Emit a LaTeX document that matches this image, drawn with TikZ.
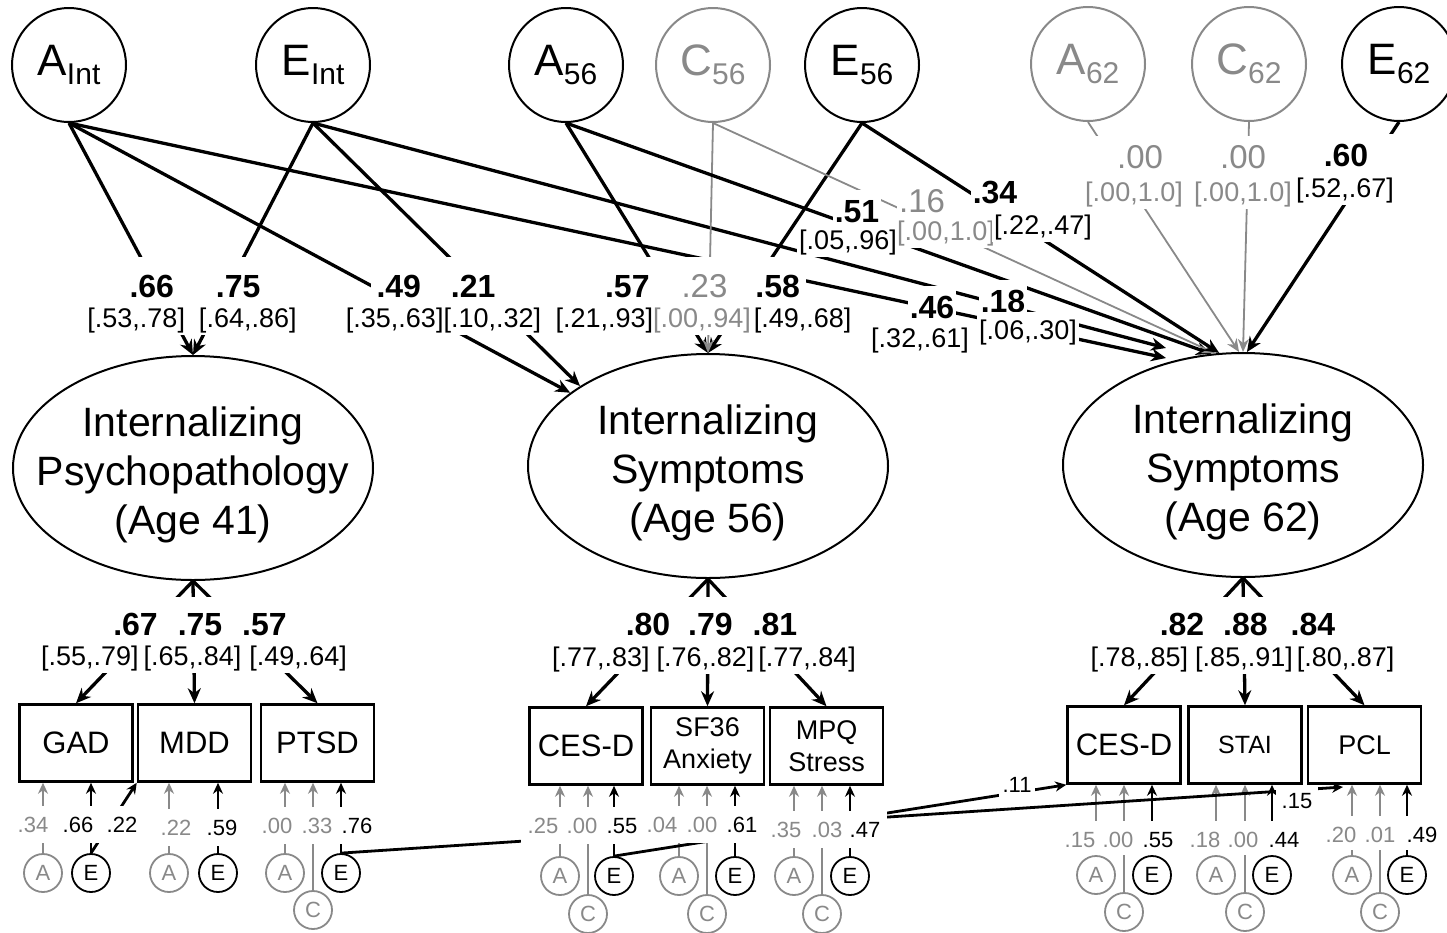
\documentclass[tikz,border=0pt]{standalone}
\usepackage{fontspec}
\setmainfont{Liberation Sans}
\usetikzlibrary{arrows.meta,shapes.geometric,positioning,calc}
\definecolor{mygray}{RGB}{137,137,137}
\newcommand{\fs}[1]{\fontsize{#1}{#1}\selectfont}
\newcommand{\ltn}[2]{{\fs{44}#1}{\fs{30}\raisebox{-9pt}{#2}}}
\newcommand{\gr}[1]{{\color{mygray}#1}}

\begin{document}
\begin{tikzpicture}[x=1pt,y=-1pt,
   lat/.style={circle,draw=black,line width=2pt,inner sep=0pt,minimum size=114pt},
   latg/.style={lat,draw=mygray,text=mygray},
   fac/.style={ellipse,draw=black,line width=2pt,inner xsep=-40pt,inner ysep=0pt,minimum width=360pt,minimum height=224pt,align=center,font=\fontsize{41}{49}\selectfont},
   ind/.style={draw=black,line width=2.5pt,inner sep=0pt,minimum width=113pt,minimum height=77pt,align=center,font=\fs{31}},
   indsm/.style={ind,font=\fontsize{27}{32}\selectfont},
   ace/.style={circle,draw=black,line width=1.8pt,inner sep=0pt,minimum size=38pt,font=\fs{22}},
   aceg/.style={ace,draw=mygray,text=mygray},
   est/.style={fill=white,anchor=base,inner xsep=2pt,inner ysep=2pt,text height=38pt,text depth=9pt,font=\bfseries\fs{32}},
   estr/.style={est,text height=30pt},
   estg/.style={estr,text=mygray,font=\fs{33}},
   ci/.style={fill=white,anchor=base,inner xsep=2pt,inner ysep=2pt,text height=20pt,text depth=6pt,font=\fs{27}},
   cig/.style={ci,text=mygray},
   sl/.style={fill=white,anchor=base,inner xsep=7pt,inner ysep=0pt,text height=26pt,text depth=11pt,font=\fs{22}},
   slg/.style={sl,text=mygray},
   pth/.style={line width=3.3pt,-{Stealth[length=15pt,width=13pt]}},
   pthg/.style={line width=1.8pt,draw=mygray,-{Stealth[length=13pt,width=11pt]}},
   sarr/.style={line width=2.8pt,-{Stealth[length=11pt,width=10pt]}},
   sarrg/.style={line width=2.2pt,draw=mygray,-{Stealth[length=11pt,width=10pt]}}]
\useasboundingbox (0,0) rectangle (1447,932);

\path (69,65) node[lat] (aI) {\ltn{A}{Int}}
      (313,65) node[lat] (eI) {\ltn{E}{Int}}
      (566,65) node[lat] (a56) {\ltn{A}{56}}
      (713,65) node[latg] (c56) {\ltn{C}{56}}
      (862,65) node[lat] (e56) {\ltn{E}{56}}
      (1088,64) node[latg] (a62) {\ltn{A}{62}}
      (1249,64) node[latg] (c62) {\ltn{C}{62}}
      (1399,64) node[lat] (e62) {\ltn{E}{62}};

\path (193,468) node[fac] (f41) {\rule{0pt}{44pt}Internalizing\\Psychopathology\\(Age 41)}
      (708,466) node[fac] (f56) {\rule{0pt}{44pt}Internalizing\\Symptoms\\(Age 56)}
      (1243,465) node[fac] (f62) {\rule{0pt}{44pt}Internalizing\\Symptoms\\(Age 62)};

\path (76,743) node[ind] (gad) {GAD}
      (194.5,743) node[ind] (mdd) {MDD}
      (317.5,743) node[ind] (ptsd) {PTSD}
      (586,746) node[ind] (cesA) {CES-D}
      (707.5,746) node[indsm] (sf) {SF36\\Anxiety}
      (826.5,746) node[indsm] (mpq) {MPQ\\Stress}
      (1124,745) node[ind] (cesB) {CES-D}
      (1245,745) node[ind,font=\fs{25}] (stai) {STAI}
      (1364.5,745) node[indsm] (pcl) {PCL};

\path (43,873) node[aceg] (aG) {A}
      (91,873) node[ace] (eG) {E}
      (169,873) node[aceg] (aM) {A}
      (218,873) node[ace] (eM) {E}
      (285,873) node[aceg] (aP) {A}
      (313,910) node[aceg] (cP) {C}
      (341,873) node[ace] (eP) {E}
      (560,876) node[aceg] (aC1) {A}
      (588,914) node[aceg] (cC1) {C}
      (614,876) node[ace] (eC1) {E}
      (679,876) node[aceg] (aS) {A}
      (707,914) node[aceg] (cS) {C}
      (735,876) node[ace] (eS) {E}
      (794,876) node[aceg] (aQ) {A}
      (822,914) node[aceg] (cQ) {C}
      (850,876) node[ace] (eQ) {E}
      (1096,875) node[aceg] (aC2) {A}
      (1124,912) node[aceg] (cC2) {C}
      (1152,875) node[ace] (eC2) {E}
      (1216,875) node[aceg] (aT) {A}
      (1245,912) node[aceg] (cT) {C}
      (1272,875) node[ace] (eT) {E}
      (1352,875) node[aceg] (aL) {A}
      (1380,912) node[aceg] (cL) {C}
      (1407,875) node[ace] (eL) {E};

\coordinate (tipA) at (1166,358);
\coordinate (tipE) at (1166,348);
\coordinate (pclIn) at (1343,787);

\draw[pth] (aI.south) -- (f41.north);
\draw[pth] (eI.south) -- (f41.north);
\draw[pth] (aI.south) -- (f56.152);
\draw[pth] (eI.south) -- (f56.148);
\draw[pth] (aI.south) -- (tipA);
\draw[pth] (eI.south) -- (tipE);
\draw[pth] (a56.south) -- (f56.north);
\draw[pth] (e56.south) -- (f56.north);
\draw[pthg] (c56.south) -- (f56.north);
\draw[pth] (a56.south) -- (f62.106);
\draw[pthg] (c56.south) -- (f62.104);
\draw[pth] (e56.south) -- (f62.102);
\draw[pthg] (a62.south) -- (f62.92);
\draw[pthg] (c62.south) -- (f62.north);
\draw[pth] (e62.south) -- (f62.88);

\foreach \b in {gad,mdd,ptsd} \draw[pth] (f41.south) -- (\b.north);
\foreach \b in {cesA,sf,mpq} \draw[pth] (f56.south) -- (\b.north);
\foreach \b in {cesB,stai,pcl} \draw[pth] (f62.south) -- (\b.north);

\foreach \c/\b in {aG/gad,aM/mdd,aP/ptsd,cP/ptsd,aC1/cesA,cC1/cesA,aS/sf,cS/sf,aQ/mpq,cQ/mpq,aC2/cesB,cC2/cesB,aT/stai,cT/stai,aL/pcl,cL/pcl}
   \draw[sarrg] (\c.north) -- (\c.north |- \b.south);
\foreach \c/\b in {eG/gad,eM/mdd,eP/ptsd,eC1/cesA,eS/sf,eQ/mpq,eC2/cesB,eT/stai,eL/pcl}
   \draw[sarr] (\c.north) -- (\c.north |- \b.south);

\draw[sarr] (eG.north) -- (mdd.south west);
\draw[sarr] (eP.north) -- (pclIn);
\draw[sarr] (eC1.north) -- (cesB.south west);

\node[est,inner xsep=6pt] (ldA) at (195,297) {.66\hspace{42pt}.75};
\node[ci] (ciA) at (192,327) {[.53,.78]\hspace{14pt}[.64,.86]};
\node[est,inner xsep=6pt] (ldB) at (436,297) {.49\hspace{30pt}.21};
\node[ci] (ciB) at (443.5,327) {[.35,.63][.10,.32]};
\node[est,inner xsep=6pt] (ldC) at (702.5,297) {.57\hspace{32pt}\gr{\mdseries\fs{33}.23}\hspace{28pt}.58};
\node[ci] (ciC) at (703.5,327) {[.21,.93]\gr{[.00,.94]}\hspace{3pt}[.49,.68]};
\node[estr] (l51) at (857,222) {.51};
\node[ci] (ci51) at (848,249) {[.05,.96]};
\node[estg] (l16) at (922,212) {.16};
\node[cig] (ci16) at (946,240) {[.00,1.0]};
\node[estr] (l34) at (995,203) {.34};
\node[ci] (ci34) at (1043,234) {[.22,.47]};
\node[estr] (l46) at (932,318) {.46};
\node[ci] (ci46) at (920,347) {[.32,.61]};
\node[estr] (l18) at (1003,312) {.18};
\node[ci,text height=25pt] (ci18) at (1028,339) {[.06,.30]};
\node[estg,minimum width=97pt] (la62) at (1140,168) {.00};
\node[cig] (cia62) at (1134,201) {[.00,1.0]};
\node[estg,minimum width=97pt] (lc62) at (1243,168) {.00};
\node[cig] (cic62) at (1243,201) {[.00,1.0]};
\node[estr,minimum width=97pt] (le62) at (1346,166) {.60};
\node[ci] (cie62) at (1345,197) {[.52,.67]};

\node[est,text height=36pt] (ld41) at (200,635) {.67\hspace{20pt}.75\hspace{20pt}.57};
\node[ci] (ci41) at (194,665) {[.55,.79]\hspace{5pt}[.65,.84]\hspace{8pt}[.49,.64]};
\node[est,text height=36pt] (ld56) at (711.5,635) {.80\hspace{18pt}.79\hspace{20pt}.81};
\node[ci] (ci56) at (704,666) {[.77,.83]\hspace{7pt}[.76,.82]\hspace{4pt}[.77,.84]};
\node[est,text height=36pt] (ld62) at (1247.5,635) {.82\hspace{19pt}.88\hspace{23pt}.84};
\node[ci] (ci62) at (1242.5,666) {[.78,.85]\hspace{7pt}[.85,.91]\hspace{4pt}[.80,.87]};

\node[slg] (lgA) at (33,832) {.34};
\node[sl] (lgE) at (78,832) {.66};
\node[sl] (lgM) at (122,832) {.22};
\node[slg] (lmA) at (176,835) {.22};
\node[sl] (lmE) at (222,835) {.59};
\node[slg] (lpA) at (277,833) {.00};
\node[slg] (lpC) at (317,833) {.33};
\node[sl] (lpE) at (357,833) {.76};
\node[slg] (lc1A) at (543,833) {.25};
\node[slg] (lc1C) at (582,833) {.00};
\node[sl] (lc1E) at (622,833) {.55};
\node[slg] (lsA) at (662,832) {.04};
\node[slg] (lsC) at (702,832) {.00};
\node[sl] (lsE) at (742,832) {.61};
\node[slg] (lqA) at (786,837) {.35};
\node[slg] (lqC) at (827,837) {.03};
\node[sl] (lqE) at (865,837) {.47};
\node[slg,text depth=8pt] (lc2A) at (1080,847) {.15};
\node[slg,text depth=8pt] (lc2C) at (1118,847) {.00};
\node[sl,text depth=8pt] (lc2E) at (1158,847) {.55};
\node[slg,text depth=8pt] (ltA) at (1205,847) {.18};
\node[slg,text depth=8pt] (ltC) at (1243,847) {.00};
\node[sl,text depth=8pt] (ltE) at (1284,847) {.44};
\node[slg,text depth=8pt] (llA) at (1341,842) {.20};
\node[slg,text depth=8pt] (llC) at (1380,842) {.01};
\node[sl,text depth=8pt] (llE) at (1422,842) {.49};
\node[sl,text depth=8pt,inner xsep=4pt] (rCes) at (1017,792) {.11};
\node[sl,text height=22pt,text depth=3pt,inner xsep=6pt] (rPcl) at (1297,808) {.15};
\end{tikzpicture}
\end{document}
